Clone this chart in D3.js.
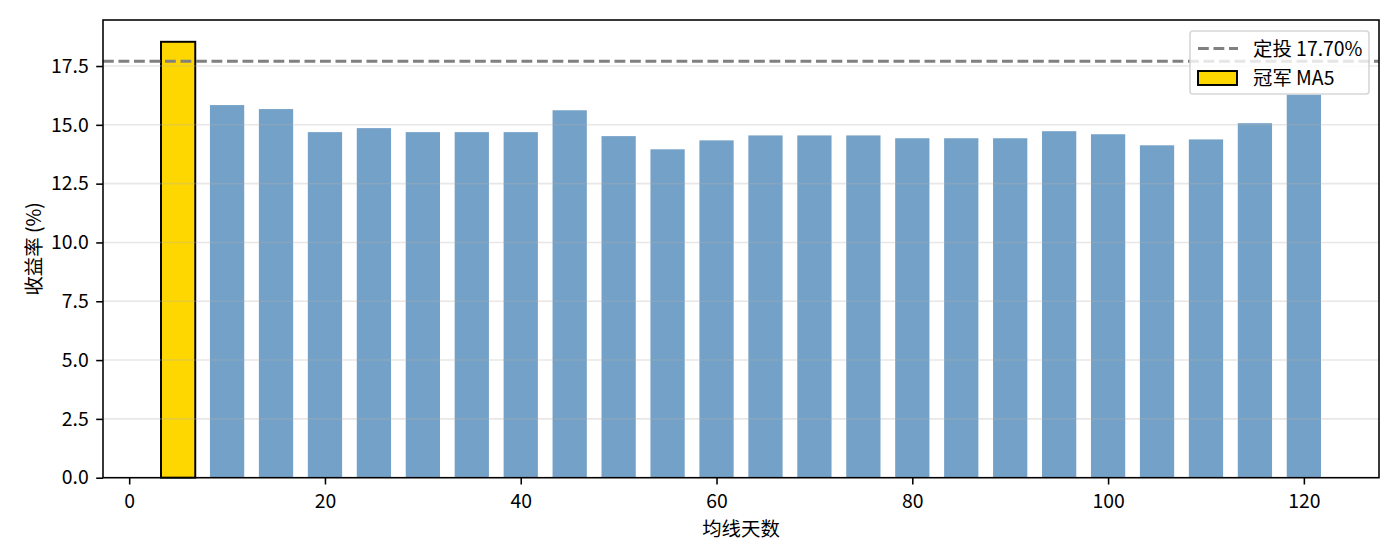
<!DOCTYPE html>
<html>
<head>
<meta charset="utf-8">
<script src="https://cdn.jsdelivr.net/npm/d3@7"></script>
<style>
  html, body { margin: 0; padding: 0; background: #fff; }
  svg text { font-family: "Noto Sans CJK SC", "Noto Sans", sans-serif; fill: #000; }
</style>
</head>
<body>
<svg id="chart" width="1400" height="560"></svg>
<script>
// ---- data ----
const maDays = [5, 10, 15, 20, 25, 30, 35, 40, 45, 50, 55, 60, 65, 70, 75, 80, 85, 90, 95, 100, 105, 110, 115, 120];
const returns = [18.53, 15.84, 15.67, 14.69, 14.86, 14.69, 14.69, 14.69, 15.62, 14.52, 13.96, 14.34, 14.55, 14.55, 14.55, 14.43, 14.43, 14.43, 14.73, 14.60, 14.13, 14.38, 15.07, 16.28];
const championDay = 5;
const dcaReturn = 17.70;
const xTicks = [0, 20, 40, 60, 80, 100, 120];
const yTicks = [0, 2.5, 5, 7.5, 10, 12.5, 15, 17.5];
const xLabel = "均线天数";
const yLabel = "收益率 (%)";
const legendLabels = ["定投 17.70%", "冠军 MA5"];

// ---- layout ----
const L = 103, R = 1379, T = 20, B = 477.7;
const FS = 19.4;
const barW = 3.5;
const svg = d3.select("#chart");
const font = '"Noto Sans CJK SC", "Noto Sans", sans-serif';

const x = d3.scaleLinear().domain([-2.675, 127.675]).range([L, R]);
const y = d3.scaleLinear().domain([0, d3.max(returns) * 1.05]).range([B, T]);

const data = maDays.map((d, i) => ({ day: d, v: returns[i] }));

// bars
svg.append("g").selectAll("rect").data(data).join("rect")
  .attr("x", d => x(d.day - barW / 2))
  .attr("width", d => x(d.day + barW / 2) - x(d.day - barW / 2))
  .attr("y", d => y(d.v))
  .attr("height", d => y(0) - y(d.v))
  .attr("fill", d => d.day === championDay ? "#FFD700" : "steelblue")
  .attr("fill-opacity", d => d.day === championDay ? 1 : 0.75)
  .attr("stroke", d => d.day === championDay ? "#000" : "none")
  .attr("stroke-width", 1.95);

// horizontal grid (above bars, like matplotlib)
svg.append("g").selectAll("line").data(yTicks).join("line")
  .attr("x1", L).attr("x2", R)
  .attr("y1", d => y(d)).attr("y2", d => y(d))
  .attr("stroke", "#b0b0b0").attr("stroke-opacity", 0.3).attr("stroke-width", 1.56);

// dca line
svg.append("line")
  .attr("x1", L).attr("x2", R)
  .attr("y1", y(dcaReturn)).attr("y2", y(dcaReturn))
  .attr("stroke", "#808080").attr("stroke-width", 2.9)
  .attr("stroke-dasharray", "10.8,4.7");

// axes
const xAxis = d3.axisBottom(x).tickValues(xTicks).tickFormat(d3.format("d")).tickSize(6.8).tickPadding(6.8);
const yAxis = d3.axisLeft(y).tickValues(yTicks).tickFormat(d3.format(".1f")).tickSize(6.8).tickPadding(7.5);

const gx = svg.append("g").attr("transform", `translate(0,${B})`).call(xAxis);
const gy = svg.append("g").attr("transform", `translate(${L},0)`).call(yAxis);
[gx, gy].forEach(g => {
  g.select(".domain").remove();
  g.selectAll(".tick line").attr("stroke", "#000").attr("stroke-width", 1.56);
  g.selectAll(".tick text").attr("font-size", FS).attr("fill", "#000").style("font-family", font);
});
gx.selectAll(".tick text").attr("y", 30.8).attr("dy", null);

// frame
svg.append("rect").attr("x", L).attr("y", T).attr("width", R - L).attr("height", B - T)
  .attr("fill", "none").attr("stroke", "#000").attr("stroke-width", 1.56);

// axis labels
svg.append("text").attr("x", (L + R) / 2).attr("y", 536)
  .attr("text-anchor", "middle").attr("font-size", FS).text(xLabel);
svg.append("text").attr("transform", `translate(40.7,${(T + B) / 2}) rotate(-90)`)
  .attr("text-anchor", "middle").attr("font-size", FS).text(yLabel);

// legend
const lg = svg.append("g");
lg.append("rect").attr("x", 1190).attr("y", 31).attr("width", 179).attr("height", 63)
  .attr("rx", 3).attr("fill", "#fff").attr("fill-opacity", 0.8)
  .attr("stroke", "#cccccc").attr("stroke-opacity", 0.8).attr("stroke-width", 1.56);
lg.append("line").attr("x1", 1198).attr("x2", 1238).attr("y1", 48.5).attr("y2", 48.5)
  .attr("stroke", "#808080").attr("stroke-width", 2.9).attr("stroke-dasharray", "10.8,4.7");
lg.append("rect").attr("x", 1198).attr("y", 71).attr("width", 39).attr("height", 14)
  .attr("fill", "#FFD700").attr("stroke", "#000").attr("stroke-width", 1.95);
lg.append("text").attr("x", 1253).attr("y", 55.5).attr("font-size", FS).text(legendLabels[0]);
lg.append("text").attr("x", 1253).attr("y", 85).attr("font-size", FS).text(legendLabels[1]);
</script>
</body>
</html>
